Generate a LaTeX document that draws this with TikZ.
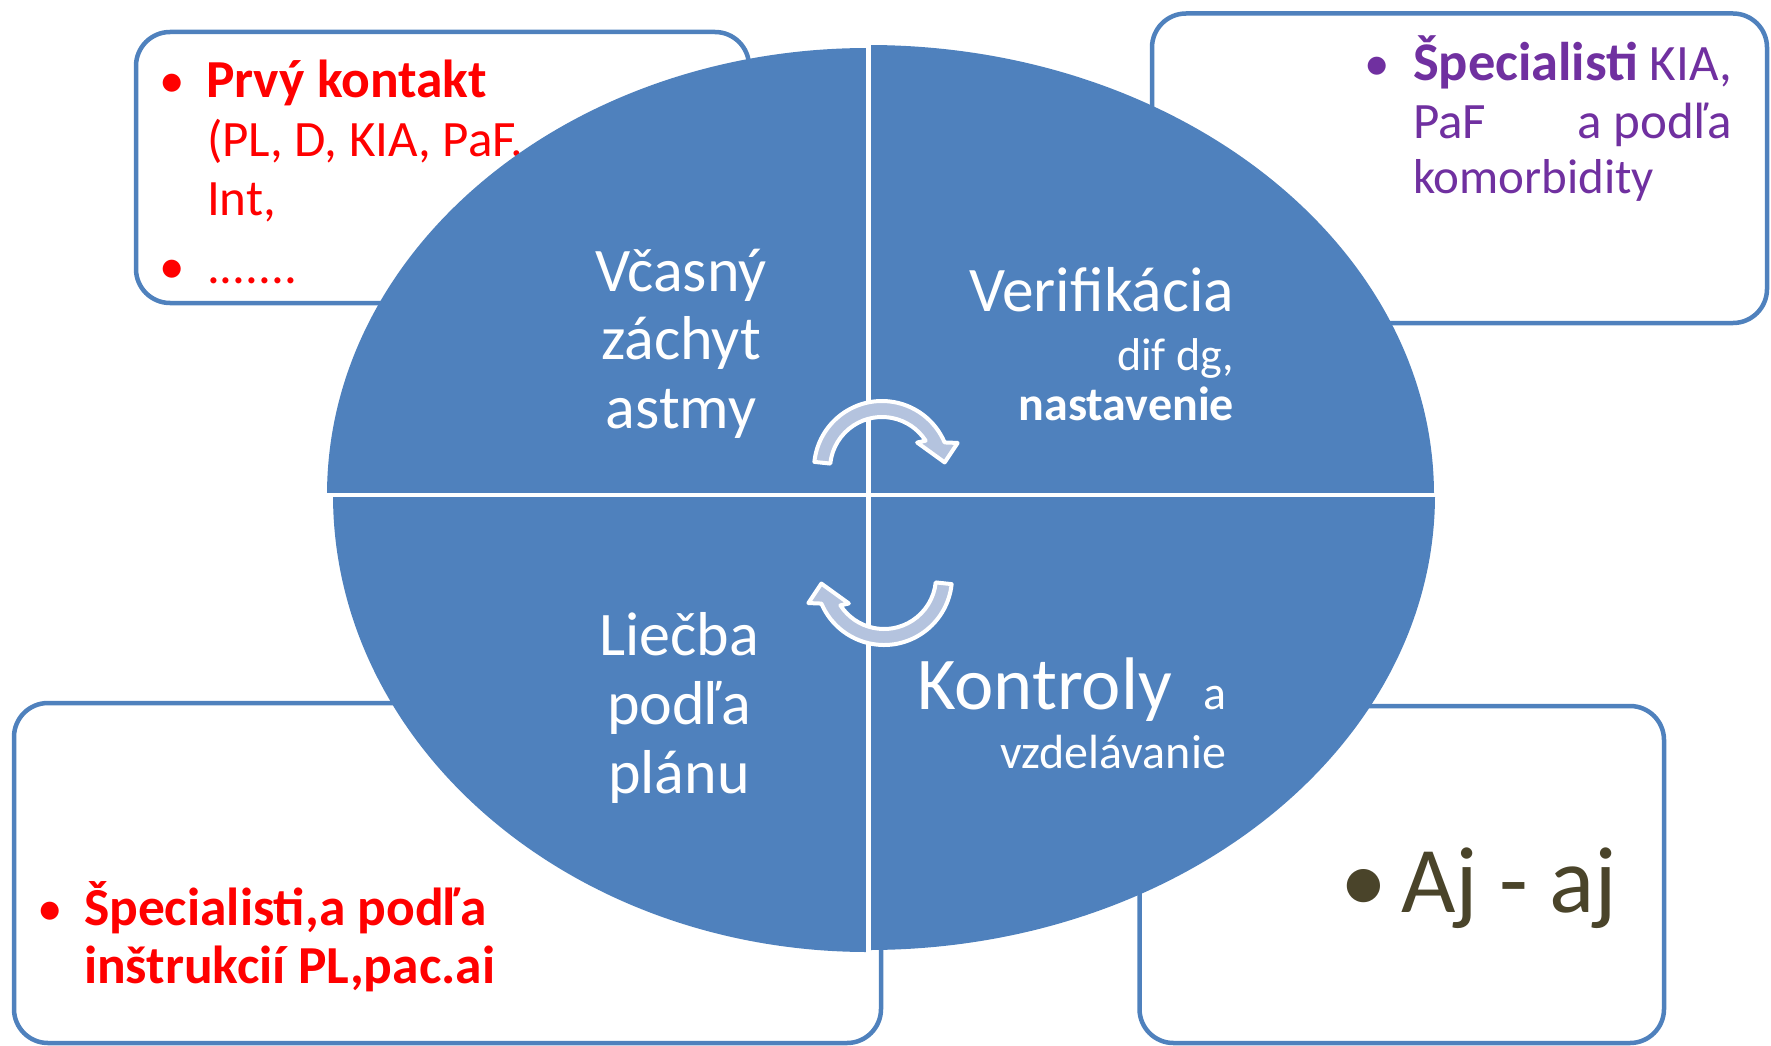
\documentclass[tikz,border=0pt]{standalone}
\usepackage{fontspec}
\setmainfont{Carlito}
\usetikzlibrary{calc}
\definecolor{blu}{HTML}{4F81BD}
\definecolor{arrfill}{HTML}{B4C3DE}
\definecolor{pur}{HTML}{7030A0}
\definecolor{oliv}{HTML}{4A442A}
\definecolor{rd}{HTML}{FF0000}
\begin{document}
\begin{tikzpicture}[x=1pt,y=-1pt,
  box/.style={draw=blu, line width=4.5pt, fill=white, rounded corners=34pt},
  quad/.style={fill=blu},
  divider/.style={draw=white, line width=5pt},
  cyclearrow/.style={fill=arrfill, draw=white, line width=4pt, line join=round},
  tw/.style={inner sep=0pt, outer sep=0pt, anchor=base west},
  tc/.style={inner sep=0pt, outer sep=0pt, anchor=base},
  te/.style={inner sep=0pt, outer sep=0pt, anchor=base east},
  fbox/.style={font=\fontsize{51}{60}\selectfont},
  fboxb/.style={font=\fontsize{53.5}{60}\selectfont\bfseries},
  fbig/.style={font=\fontsize{62}{69}\selectfont},
  fverif/.style={font=\fontsize{63.5}{69}\selectfont},
  fhuge/.style={font=\fontsize{74.5}{80}\selectfont},
  fsmall/.style={font=\fontsize{46}{52}\selectfont},
  fsmallb/.style={font=\fontsize{48}{52}\selectfont\bfseries},
  fvz/.style={font=\fontsize{48}{52}\selectfont},
  fhuge2/.style={font=\fontsize{94}{100}\selectfont},
  qtext/.style={text=white}]
\useasboundingbox (0,0) rectangle (1771,1046);

% ---- outer boxes ----
\draw[box] (136,32) rectangle (749,303);
\draw[box] (1152,13.5) rectangle (1767,323);
\draw[box] (14,703) rectangle (881,1043);
\draw[box] (1139.5,706) rectangle (1664,1043);

% ---- box texts ----
\node[tc, fbox, text=rd] (b1) at (172,98) {•};
\node[tw, fboxb, text=rd] (t1) at (206,98) {Prvý kontakt};
\node[tw, fbox, text=rd] (t2) at (207,157) {(PL, D, KIA, PaF,};
\node[tw, fbox, text=rd] (t3) at (207,215) {Int,};
\node[tc, fbox, text=rd] (b2) at (172,283) {•};
\node[tw, fbox, text=rd] (t4) at (207,283) {.......};

\node[tc, fbox, text=pur] (b3) at (1377,81) {•};
\node[tw, fbox, text=pur] (t5) at (1413,81) {{\fontsize{54.5}{60}\selectfont\bfseries Špecialisti} KIA,};
\node[tw, fbox, text=pur] (t6) at (1413,138.5) {\hbox to 319pt{PaF\hfill a podľa}};
\node[tw, text=pur, font=\fontsize{49}{60}\selectfont] (t7) at (1413,193) {komorbidity};

\node[tc, fbox, text=rd] (b4) at (50.5,925) {•};
\node[tw, fboxb, text=rd] (t8) at (84,925) {Špecialisti,a podľa};
\node[tw, fboxb, text=rd] (t9) at (84,983) {inštrukcií PL,pac.ai};

\node[tc, fhuge2, text=oliv] (b5) at (1364,912) {•};
\node[tw, fhuge2, text=oliv] (t10) at (1401,912) {Aj - aj};

% ---- central ellipse in four quarters ----
\coordinate (O) at (868,495);
\fill[quad] (O) -- (327,495) arc[start angle=180, end angle=270, x radius=541, y radius=447] -- cycle;
\fill[quad] (O) -- (868,45) arc[start angle=270, end angle=360, x radius=566, y radius=450] -- cycle;
\fill[quad] (O) -- (1435,495) arc[start angle=0, end angle=90, x radius=567, y radius=455] -- cycle;
\fill[quad] (O) -- (868,952) arc[start angle=90, end angle=180, x radius=535, y radius=457] -- cycle;
\coordinate (vt) at (868,40);
\coordinate (vb) at (868,958);
\coordinate (hl) at (320,495);
\coordinate (hr) at (1442,495);
\draw[divider] (vt) -- (vb);
\draw[divider, line width=4.5pt] (hl) -- (hr);

% ---- cycle arrows ----
\coordinate (c1) at (882,469);
\filldraw[cyclearrow] ($(c1)+(186:68)$) arc[start angle=186, end angle=337, radius=68]
  -- ($(c1)+(-19:80)$) -- ($(c1)+(-6:63)$) -- ($(c1)+(-37:44)$) -- ($(c1)+(-33:52)$)
  arc[start angle=-33, end angle=-174, radius=52] -- cycle;
\coordinate (c2) at (884,577);
\filldraw[cyclearrow] ($(c2)+(6:68)$) arc[start angle=6, end angle=157, radius=68]
  -- ($(c2)+(161:80)$) -- ($(c2)+(174:63)$) -- ($(c2)+(143:44)$) -- ($(c2)+(147:52)$)
  arc[start angle=147, end angle=6, radius=52] -- cycle;

% ---- quadrant texts ----
\node[tc, fbig, qtext] (q1a) at (681,291) {Včasný};
\node[tc, fbig, qtext] (q1b) at (681,359.5) {záchyt};
\node[tc, fbig, qtext] (q1c) at (681,428) {astmy};

\node[te, fverif, qtext] (q2a) at (1234,311) {Verifikácia};
\node[te, fsmall, qtext] (q2b) at (1234,370) {dif dg,};
\node[te, fsmallb, qtext] (q2c) at (1234,420) {nastavenie};

\node[tc, fbig, qtext] (q3a) at (679,655) {Liečba};
\node[tc, fbig, qtext] (q3b) at (679,724) {podľa};
\node[tc, fbig, qtext] (q3c) at (679,793) {plánu};

\node[tw, fhuge, qtext] (q4a) at (917,709) {Kontroly};
\node[te, fvz, qtext] (q4b) at (1226,709) {a};
\node[te, fvz, qtext] (q4c) at (1226,768) {vzdelávanie};
\end{tikzpicture}
\end{document}
